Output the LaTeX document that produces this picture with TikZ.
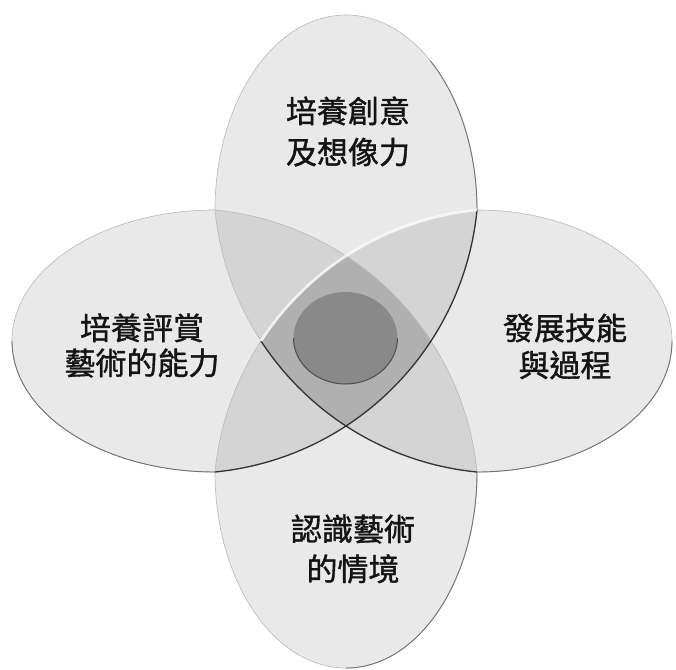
\documentclass[tikz,border=0pt]{standalone}
\usepackage{fontspec}
\newfontfamily\cjk[FakeBold=1.2]{Noto Sans CJK TC}
\newcommand\petalshape[1]{(131,131) arc[start angle=0,end angle=180,x radius=131,y radius=#1] arc[start angle=185.59,end angle=236.89,radius=291.8] arc[start angle=-56.89,end angle=-5.59,radius=291.8] -- cycle}
\tikzset{
  petal/.style={fill=black, fill opacity=0.085},
  petaledge/.style={draw=black!28, line width=0.6pt},
  shadowedge/.style={draw=black!55, line width=0.9pt},
  darkedge/.style={draw=black!80, line width=1.3pt},
  highlight/.style={draw=white, line width=2.6pt, draw opacity=0.8},
  petaltext/.style={font=\cjk\fontsize{31}{32}\selectfont, text=black!92, align=center, inner sep=0pt},
}
\begin{document}
\begin{tikzpicture}[x=1pt,y=1pt]
\fill[white] (-346,-328) rectangle (330,341);
\useasboundingbox (-346,-328) rectangle (330,341);
\coordinate (TL) at (-131,131);
\coordinate (TR) at (131,131);
\coordinate (BR) at (131,-131);
\coordinate (BL) at (-131,-131);
\coordinate (RT) at (-85,0);
\coordinate (RE) at (326,0);
% petals
\foreach \r/\b in {0/195, 90/203, 180/196, 270/195} {
  \path[petal, rotate=\r] \petalshape{\b};
}
\foreach \r/\b in {0/195, 90/203, 180/196, 270/195} {
  \draw[petaledge, rotate=\r] \petalshape{\b};
}
% shaded outer edges
\draw[shadowedge] (TR) arc[start angle=0,end angle=50,x radius=131,y radius=195];
\draw[shadowedge] (RE) arc[start angle=0,end angle=-90,x radius=195,y radius=131];
\draw[shadowedge] (BR) arc[start angle=0,end angle=-90,x radius=131,y radius=196];
\draw[shadowedge] (BL) arc[start angle=-90,end angle=-180,x radius=203,y radius=131];
% inner edges
\draw[darkedge] (TR) arc[start angle=-5.59,end angle=-84.41,radius=291.8];
\draw[darkedge] (RT) arc[start angle=213.11,end angle=264.41,radius=291.8];
\draw[highlight] (RT) arc[start angle=146.89,end angle=95.59,radius=291.8];
% centre
\fill[black, fill opacity=0.22] (-0.5,3) ellipse[x radius=52, y radius=46];
\coordinate (CR) at (51.5,3);
\draw[black!70, line width=1pt] (CR) arc[start angle=0,end angle=-180,x radius=52,y radius=46];
% labels
\node[petaltext] (top) at (2,209.5) {培養創意\\[9pt]及想像力};
\node[petaltext] (left) at (-204,-4.5) {培養評賞\\[3pt]藝術的能力};
\node[petaltext] (right) at (219,-5.5) {發展技能\\[5pt]與過程};
\node[petaltext] (bottom) at (7,-208) {認識藝術\\[8pt]的情境};
\end{tikzpicture}
\end{document}
